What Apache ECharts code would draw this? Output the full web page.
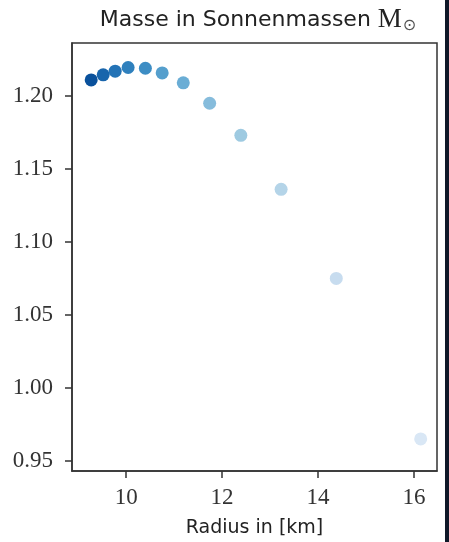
<!DOCTYPE html>
<html>
<head>
<meta charset="utf-8">
<script src="https://cdn.jsdelivr.net/npm/echarts@6/dist/echarts.min.js"></script>
<style>
  html, body { margin: 0; padding: 0; background: #0f1828; }
  #main { width: 445px; height: 542px; background: #fff; }
</style>
</head>
<body>
<div id="main"></div>
<script>
// Radius in km, mass in solar masses
var radius = [9.27, 9.52, 9.77, 10.04, 10.40, 10.75, 11.19, 11.74, 12.39, 13.23, 14.38, 16.14];
var mass = [1.211, 1.2145, 1.217, 1.2195, 1.219, 1.2158, 1.209, 1.195, 1.173, 1.136, 1.075, 0.965];
var xTicks = [10, 12, 14, 16];
var yTicks = [0.95, 1.00, 1.05, 1.10, 1.15, 1.20];

// Blues, dark to light
var palette = ['#0a519c', '#1865ac', '#2373b6', '#2f80bd', '#3d8dc4', '#559fcd',
               '#6aadd5', '#86bcdc', '#9ecae1', '#b4d4e8', '#c7dcef', '#d9e7f5'];

var points = [];
for (var i = 0; i < radius.length; i++) {
    points.push([radius[i], mass[i]]);
}

var axisCol = '#333';
var serif = '"Liberation Serif", "DejaVu Serif", serif';
var sans = '"DejaVu Sans", sans-serif';

var chart = echarts.init(document.getElementById('main'));
chart.setOption({
    animation: false,
    title: {
        text: 'Masse in Sonnenmassen {m|M}{s|⊙}',
        left: 253,
        textAlign: 'center',
        top: 1,
        textStyle: {
            fontFamily: sans,
            fontWeight: 'normal',
            fontSize: 22,
            color: '#222',
            rich: {
                m: { fontFamily: serif, fontSize: 27, color: '#222' },
                s: { fontFamily: sans, fontSize: 16, color: '#555', padding: [12, 0, 0, 1] }
            }
        }
    },
    grid: {
        left: 72, right: 8, top: 43, bottom: 71,
        outerBoundsMode: 'none',
        containLabel: false,
        show: true,
        borderColor: axisCol,
        borderWidth: 1.5,
        backgroundColor: '#fff'
    },
    xAxis: {
        type: 'value',
        min: 8.87,
        max: 16.48,
        name: 'Radius in [km]',
        nameLocation: 'middle',
        nameGap: 48,
        nameTextStyle: { fontFamily: sans, fontSize: 19, color: '#222' },
        splitLine: { show: false },
        axisLine: { lineStyle: { color: axisCol, width: 1.5 } },
        axisTick: { customValues: xTicks, length: 7, lineStyle: { color: axisCol, width: 1.5 } },
        axisLabel: {
            customValues: xTicks,
            fontFamily: serif,
            fontSize: 23,
            color: '#333',
            margin: 15
        }
    },
    yAxis: {
        type: 'value',
        min: 0.943,
        max: 1.2363,
        splitLine: { show: false },
        axisLine: { lineStyle: { color: axisCol, width: 1.5 } },
        axisTick: { customValues: yTicks, length: 7, lineStyle: { color: axisCol, width: 1.5 } },
        axisLabel: {
            customValues: yTicks,
            fontFamily: serif,
            fontSize: 23,
            color: '#333',
            margin: 19,
            formatter: function (v) { return v.toFixed(2); }
        }
    },
    series: [{
        type: 'scatter',
        data: points,
        symbolSize: 13,
        itemStyle: {
            opacity: 1,
            color: function (p) { return palette[p.dataIndex]; }
        }
    }]
});
</script>
</body>
</html>
